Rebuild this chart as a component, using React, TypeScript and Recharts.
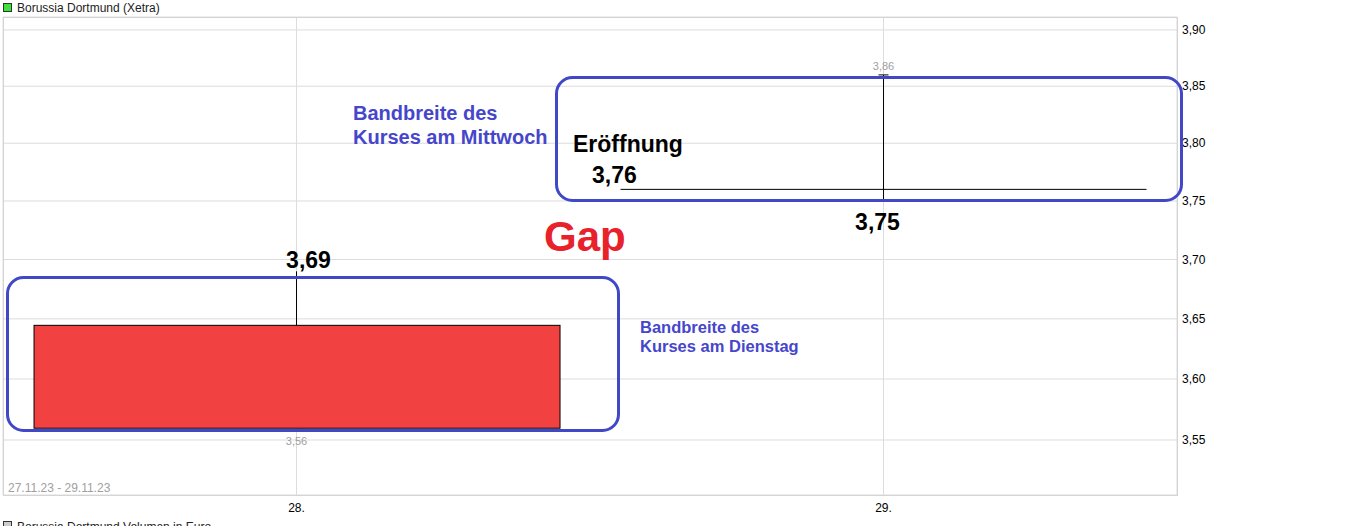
import React from "react";
import {
  ComposedChart,
  Bar,
  XAxis,
  YAxis,
  CartesianGrid,
  ReferenceDot,
} from "recharts";

// Borussia Dortmund (Xetra), daily candles 28.11. / 29.11.2023
const days = ["28.", "29."];
const openPrices = [3.645, 3.76];
const highPrices = [3.69, 3.86];
const lowPrices = [3.56, 3.75];
const closePrices = [3.56, 3.76];
const priceTicks = [3.55, 3.6, 3.65, 3.7, 3.75, 3.8, 3.85, 3.9];
const priceDomain = [3.5055, 3.9116];
const periodLabel = "27.11.23 - 29.11.23";

const data = days.map((day, i) => ({
  day,
  open: openPrices[i],
  high: highPrices[i],
  low: lowPrices[i],
  close: closePrices[i],
  range: [lowPrices[i], highPrices[i]],
}));

const periodHigh = Math.max(...highPrices);
const periodLow = Math.min(...lowPrices);

const FONT = '"Liberation Sans", Arial, sans-serif';
const BLUE = "#4048c8";

const fmt = (v: number) => v.toFixed(2).replace(".", ",");

const Candle = (props: any) => {
  const { x, y, width, height, index } = props;
  const p = props.payload ?? data[index];
  const top = Math.min(y, y + height);
  const h = Math.abs(height);
  const span = Math.log(p.high) - Math.log(p.low) || 1;
  const toY = (v: number) =>
    top + (h * (Math.log(p.high) - Math.log(v))) / span;
  const cx = x + width / 2;
  const yOpen = toY(p.open);
  const yClose = toY(p.close);
  const yHigh = toY(p.high);
  const yLow = toY(p.low);
  const bodyTop = Math.min(yOpen, yClose);
  const bodyH = Math.abs(yOpen - yClose);
  const fill = p.close < p.open ? "#f24141" : "#33cc33";

  return (
    <g>
      <line x1={cx} x2={cx} y1={yHigh} y2={yLow} stroke="#000" />
      {bodyH < 1 ? (
        <line x1={x} x2={x + width} y1={yOpen} y2={yOpen} stroke="#000" />
      ) : (
        <rect
          x={x + 0.5}
          y={bodyTop + 0.5}
          width={width}
          height={bodyH}
          fill={fill}
          stroke="#000"
        />
      )}
      {p.high === periodHigh && (
        <g>
          <line x1={cx - 5} x2={cx + 5} y1={yHigh} y2={yHigh} stroke="#000" />
          <text
            x={cx}
            y={yHigh - 5}
            textAnchor="middle"
            fontSize={11}
            fontFamily={FONT}
            fill="#a0a0a0"
          >
            {fmt(p.high)}
          </text>
        </g>
      )}
      {p.low === periodLow && (
        <text
          x={cx}
          y={yLow + 17}
          textAnchor="middle"
          fontSize={11}
          fontFamily={FONT}
          fill="#a0a0a0"
        >
          {fmt(p.low)}
        </text>
      )}
    </g>
  );
};

const valueNote =
  (text: string, dx: number, dy: number, anchor: string = "middle") =>
  (props: any) => {
    const vb = props.viewBox || {};
    const bx = (vb.x ?? 0) + (vb.width ?? 0) / 2;
    const by = (vb.y ?? 0) + (vb.height ?? 0) / 2;
    return (
      <text
        x={bx + dx}
        y={by + dy}
        textAnchor={anchor}
        fontSize={23}
        fontWeight="bold"
        fontFamily={FONT}
        fill="#000"
      >
        {text}
      </text>
    );
  };

export default function App() {
  return (
    <div
      style={{
        position: "relative",
        width: 1365,
        height: 526,
        overflow: "hidden",
        fontFamily: FONT,
      }}
    >
      <style>{"body{margin:0}"}</style>
      <ComposedChart
        width={1365}
        height={526}
        data={data}
        margin={{ top: 17, right: 0, left: 3, bottom: 0 }}
        barCategoryGap="5.2%"
      >
        <CartesianGrid stroke="#dcdcdc" />
        <XAxis
          dataKey="day"
          type="category"
          height={31}
          axisLine={false}
          tickLine={false}
          tickSize={6}
          tickMargin={2}
          interval={0}
          tick={{ fontSize: 12, fill: "#000", fontFamily: FONT }}
        />
        <YAxis
          orientation="right"
          width={188}
          scale="log"
          type="number"
          domain={priceDomain}
          allowDataOverflow
          ticks={priceTicks}
          tickFormatter={fmt}
          axisLine={false}
          tickLine={false}
          tickSize={3}
          tickMargin={2}
          tick={{ fontSize: 12, fill: "#000", fontFamily: FONT, textAnchor: "start" }}
        />
        <Bar
          dataKey="range"
          shape={Candle}
          isAnimationActive={false}
        />
        <ReferenceDot
          x={days[0]}
          y={highPrices[0]}
          r={0.01}
          fill="none"
          stroke="none"
          label={valueNote(fmt(highPrices[0]), 12, -3)}
        />
        <ReferenceDot
          x={days[1]}
          y={lowPrices[1]}
          r={0.01}
          fill="none"
          stroke="none"
          label={valueNote(fmt(lowPrices[1]), -6, 29)}
        />
        <ReferenceDot
          x={days[1]}
          y={openPrices[1]}
          r={0.01}
          fill="none"
          stroke="none"
          label={valueNote(fmt(openPrices[1]), -291.5, -6, "start")}
        />
      </ComposedChart>

      <svg
        width={1365}
        height={540}
        style={{ position: "absolute", left: 0, top: 0, pointerEvents: "none" }}
        fontFamily={FONT}
      >
        {/* plot frame */}
        <rect x={3.5} y={17.5} width={1174} height={478} fill="none" stroke="#d4d4d4" />

        {/* legends */}
        <rect x={3.5} y={3.5} width={8} height={8} fill="#3ee03e" stroke="#333" />
        <text x={17} y={12} fontSize={12} fill="#222">
          Borussia Dortmund (Xetra)
        </text>
        <rect x={3.5} y={521.5} width={8} height={8} fill="#cccccc" stroke="#333" />
        <text x={17} y={531} fontSize={12} fill="#222">
          Borussia Dortmund Volumen in Euro
        </text>
        <text x={8} y={492} fontSize={12} fill="#a0a0a0">
          {periodLabel}
        </text>

        {/* annotations */}
        <rect x={7.5} y={277.5} width={611} height={153} rx={16} fill="none" stroke={BLUE} strokeWidth={3} />
        <rect x={556.5} y={77.5} width={625} height={123} rx={16} fill="none" stroke={BLUE} strokeWidth={3} />

        <text x={353} y={120} fontSize={20} fontWeight="bold" fill="#4646cc">
          Bandbreite des
        </text>
        <text x={353} y={144} fontSize={20} fontWeight="bold" fill="#4646cc">
          Kurses am Mittwoch
        </text>
        <text x={640} y={333} fontSize={16.5} fontWeight="bold" fill="#4646cc">
          Bandbreite des
        </text>
        <text x={640} y={352} fontSize={16.5} fontWeight="bold" fill="#4646cc">
          Kurses am Dienstag
        </text>
        <text x={573} y={152} fontSize={23} fontWeight="bold" fill="#000">
          Eröffnung
        </text>
        <text x={544} y={251} fontSize={42} fontWeight="bold" fill="#e8212b">
          Gap
        </text>
      </svg>
    </div>
  );
}
